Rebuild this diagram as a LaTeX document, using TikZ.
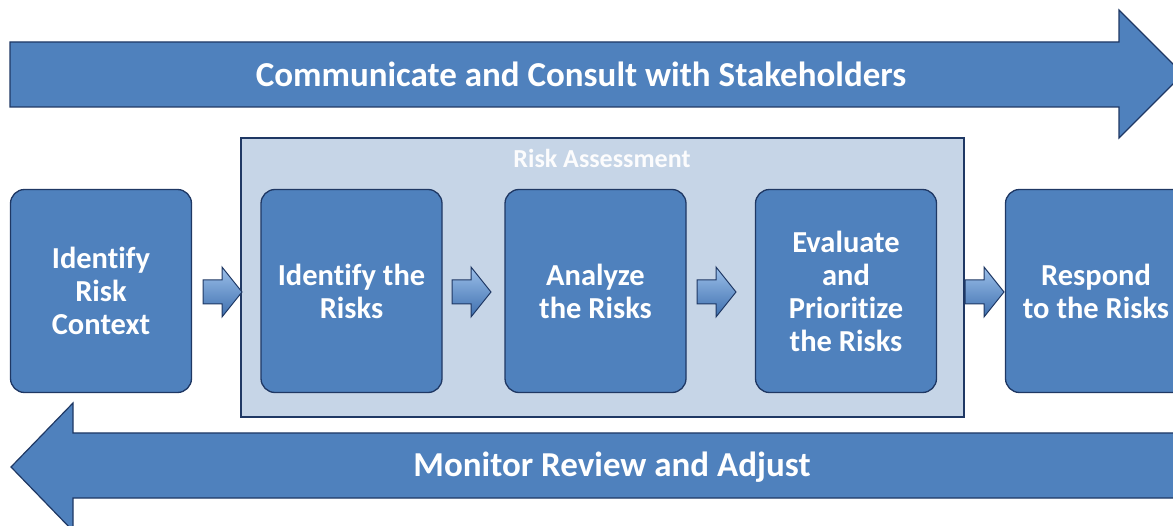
\documentclass[tikz,border=0pt]{standalone}
\usepackage{fontspec}
\setmainfont{Carlito}[Ligatures=NoCommon]
\definecolor{boxblue}{HTML}{4F81BD}
\definecolor{navy}{HTML}{1F3864}
\definecolor{ralight}{HTML}{C6D5E7}
\definecolor{arrlight}{HTML}{9CC0EA}
\definecolor{arrdark}{HTML}{3E6FAE}
\begin{document}
\begin{tikzpicture}[x=1pt,y=-1pt,
  bigarrow/.style={fill=boxblue,draw=navy,line width=1.2pt,line join=miter},
  stepbox/.style={rectangle,rounded corners=14pt,fill=boxblue,draw=navy,line width=1.3pt,
    text=white,font=\bfseries\fontsize{30.5}{33}\selectfont,align=center,
    minimum width=181pt,minimum height=203pt,inner sep=0pt},
  smallarr/.style={top color=arrlight,bottom color=arrdark,draw=navy,line width=1pt,line join=miter},
  biglabel/.style={text=white,font=\bfseries\fontsize{35}{40}\selectfont}]
\useasboundingbox (0,0) rectangle (1173,526);
\clip (0,0) rectangle (1173,526);
% top arrow
\draw[bigarrow] (10,42) -- (1119,42) -- (1119,10) -- (1183,74) -- (1119,138) -- (1119,107) -- (10,107) -- cycle;
\node[biglabel] (top) at (581,74) {Communicate and Consult with Stakeholders};
% bottom arrow
\draw[bigarrow] (1190,433) -- (73,433) -- (73,403) -- (11,467) -- (73,531) -- (73,498) -- (1190,498) -- cycle;
\node[biglabel] (bot) at (612,467) {Monitor Review and Adjust};
% risk assessment frame
\node[rectangle,fill=ralight,draw=navy,line width=1.2pt,minimum width=723pt,minimum height=279pt,inner sep=0pt] (ra) at (602.5,277.5) {};
\node[text=white!94!ralight,font=\bfseries\fontsize{26}{30}\selectfont] (ralabel) at (602,158) {Risk Assessment};
% boxes
\node[stepbox] (ctx) at (101,291) {Identify\\Risk\\Context};
\node[stepbox] (idr) at (351.5,291) {Identify the\\Risks};
\node[stepbox] (ana) at (595.5,291) {Analyze\\the Risks};
\node[stepbox] (eva) at (846,291) {Evaluate\\and\\Prioritize\\the Risks};
\node[stepbox] (res) at (1096,291) {Respond\\to the Risks};
% small arrows
\foreach \x in {203,452,697,965}{
  \draw[smallarr] (\x,280) -- (\x+19,280) -- (\x+19,267) -- (\x+39,292) -- (\x+19,317) -- (\x+19,304) -- (\x,304) -- cycle;
}
\end{tikzpicture}
\end{document}
